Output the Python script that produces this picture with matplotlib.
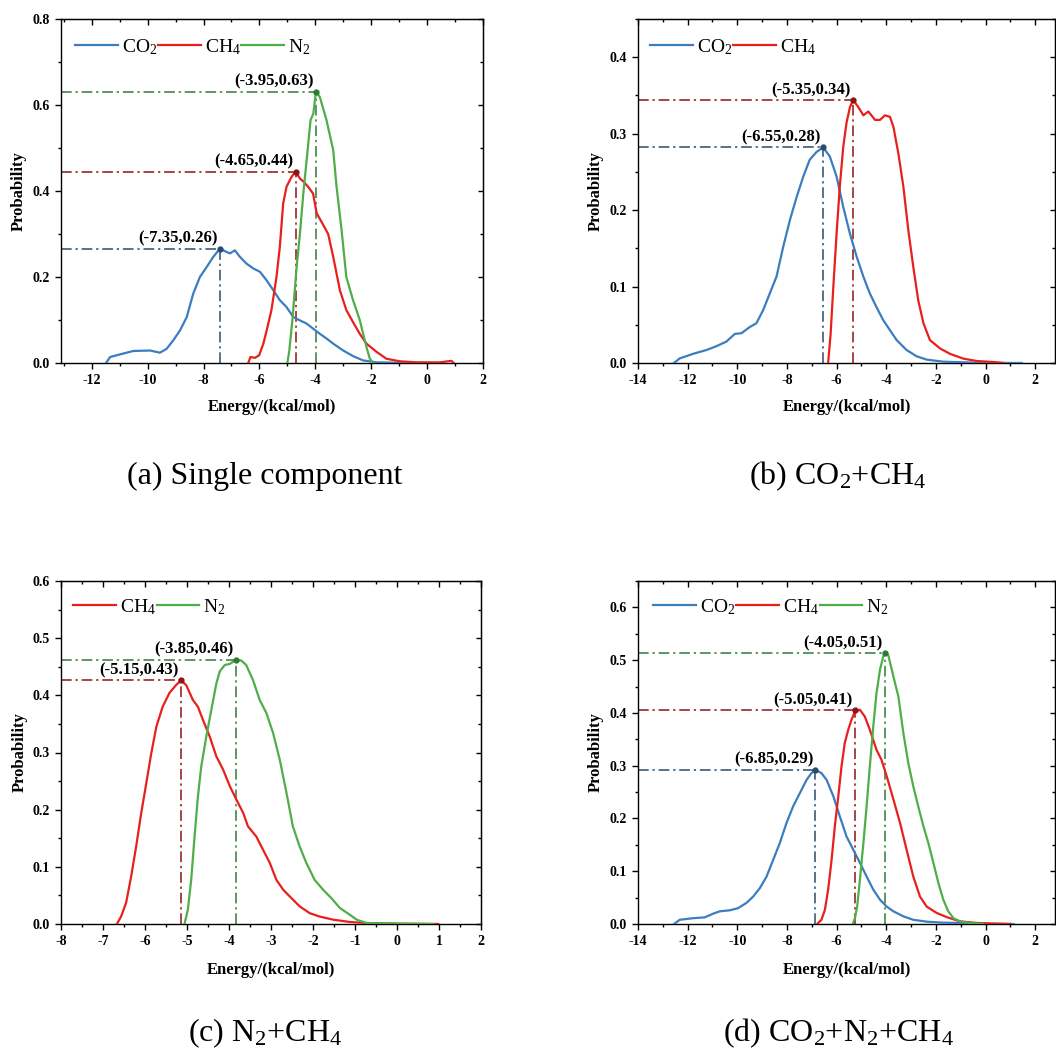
import matplotlib
matplotlib.use("Agg")
import matplotlib.pyplot as plt
from matplotlib.ticker import MultipleLocator, FormatStrFormatter

plt.rcParams['font.family'] = 'serif'
plt.rcParams['font.serif'] = ['Liberation Serif', 'DejaVu Serif']
plt.rcParams['font.weight'] = 'bold'
plt.rcParams['axes.unicode_minus'] = False
plt.rcParams['mathtext.fontset'] = 'custom'
plt.rcParams['mathtext.rm'] = 'Liberation Serif:weight=normal'
plt.rcParams['mathtext.it'] = 'Liberation Serif:italic:weight=normal'
plt.rcParams['mathtext.bf'] = 'Liberation Serif:bold'

# ---------------- data ----------------
# (a) single component
a_co2_x = [-11.49, -11.34, -10.87, -10.51, -9.91, -9.56, -9.32, -9.08, -8.84, -8.6, -8.37, -8.13, -7.89, -7.65,
           -7.41, -7.17, -7.05, -6.88, -6.7, -6.46, -6.22, -5.98, -5.74, -5.5, -5.27, -5.03, -4.79, -4.55, -4.32,
           -4.08, -3.84, -3.6, -3.36, -3.0, -2.65, -2.29, -1.81, -0.98, 0.09, 0.2]
a_co2_y = [0, 0.014, 0.022, 0.028, 0.029, 0.024, 0.033, 0.053, 0.076, 0.107, 0.161, 0.2, 0.223, 0.247,
           0.266, 0.258, 0.255, 0.262, 0.247, 0.231, 0.22, 0.212, 0.192, 0.169, 0.146, 0.13, 0.107, 0.099, 0.092,
           0.08, 0.068, 0.057, 0.045, 0.029, 0.016, 0.006, 0.0015, 0.0005, 0.0002, 0]
a_ch4_x = [-6.4, -6.32, -6.16, -6.01, -5.86, -5.74, -5.57, -5.39, -5.27, -5.15, -5.03, -4.85, -4.70, -4.55,
           -4.41, -4.26, -4.08, -3.95, -3.75, -3.54, -3.36, -3.12, -2.89, -2.65, -2.41, -2.17, -1.81, -1.46,
           -0.98, -0.38, 0.45, 0.75, 0.87, 0.95]
a_ch4_y = [0, 0.014, 0.012, 0.018, 0.045, 0.076, 0.123, 0.2, 0.27, 0.371, 0.41, 0.433, 0.445, 0.429,
           0.421, 0.41, 0.394, 0.348, 0.325, 0.3, 0.247, 0.169, 0.123, 0.095, 0.068, 0.045, 0.026, 0.01,
           0.004, 0.0015, 0.0015, 0.004, 0.005, 0]
a_n2_x = [-5.0, -4.93, -4.81, -4.67, -4.55, -4.43, -4.31, -4.17, -4.07, -3.98, -3.84, -3.6, -3.36, -3.24,
          -3.06, -2.89, -2.65, -2.41, -2.17, -2.05, -1.93]
a_n2_y = [0, 0.029, 0.107, 0.223, 0.301, 0.394, 0.472, 0.565, 0.58, 0.631, 0.619, 0.565, 0.495, 0.41,
          0.309, 0.2, 0.146, 0.1, 0.037, 0.01, 0]
a_peak_x = [-7.40, -4.70, -3.98]
a_peak_y = [0.266, 0.445, 0.631]
a_peak_labels = ['(-7.35,0.26)', '(-4.65,0.44)', '(-3.95,0.63)']

# (b) CO2 + CH4
b_co2_x = [-12.55, -12.32, -11.78, -11.24, -10.84, -10.44, -10.1, -9.83, -9.5, -9.23, -8.96, -8.69, -8.42,
           -8.15, -7.88, -7.61, -7.34, -7.08, -6.81, -6.54, -6.27, -6.0, -5.73, -5.46, -5.19, -4.92, -4.66,
           -4.39, -4.12, -3.85, -3.58, -3.18, -2.77, -2.37, -1.7, -0.35, 1.46]
b_co2_y = [0, 0.006, 0.012, 0.017, 0.022, 0.028, 0.038, 0.039, 0.047, 0.052, 0.069, 0.091, 0.113,
           0.152, 0.187, 0.217, 0.244, 0.266, 0.276, 0.282, 0.27, 0.244, 0.204, 0.169, 0.139, 0.113, 0.091,
           0.073, 0.056, 0.043, 0.03, 0.017, 0.0087, 0.0044, 0.0017, 0.0004, 0]
b_ch4_x = [-6.34, -6.24, -6.13, -6.0, -5.87, -5.73, -5.6, -5.46, -5.33, -5.13, -4.92, -4.72, -4.45, -4.25,
           -4.05, -3.85, -3.71, -3.51, -3.31, -3.11, -2.91, -2.71, -2.5, -2.24, -1.83, -1.43, -0.89, -0.35,
           0.32, 0.72]
b_ch4_y = [0, 0.038, 0.1, 0.169, 0.231, 0.283, 0.314, 0.335, 0.344, 0.335, 0.324, 0.329, 0.318, 0.318,
           0.324, 0.322, 0.309, 0.274, 0.231, 0.174, 0.126, 0.082, 0.052, 0.03, 0.019, 0.012, 0.0057, 0.0026,
           0.0013, 0]
b_peak_x = [-6.54, -5.33]
b_peak_y = [0.282, 0.344]
b_peak_labels = ['(-6.55,0.28)', '(-5.35,0.34)']

# (c) N2 + CH4
c_ch4_x = [-6.67, -6.57, -6.45, -6.33, -6.21, -6.09, -5.97, -5.85, -5.73, -5.58, -5.42, -5.26, -5.14, -5.02,
           -4.86, -4.74, -4.62, -4.46, -4.3, -4.14, -3.98, -3.82, -3.66, -3.55, -3.35, -3.19, -3.03, -2.87,
           -2.71, -2.55, -2.32, -2.08, -1.84, -1.52, -1.12, -0.73, 0.07, 0.98]
c_ch4_y = [0, 0.013, 0.037, 0.083, 0.136, 0.194, 0.246, 0.299, 0.345, 0.38, 0.404, 0.418, 0.426, 0.418,
           0.392, 0.38, 0.357, 0.328, 0.293, 0.27, 0.241, 0.217, 0.194, 0.171, 0.153, 0.13, 0.107, 0.077,
           0.06, 0.048, 0.031, 0.019, 0.013, 0.0076, 0.0035, 0.0017, 0.0006, 0]
c_n2_x = [-5.06, -4.98, -4.9, -4.82, -4.74, -4.66, -4.54, -4.42, -4.3, -4.22, -4.1, -3.98, -3.9, -3.83,
          -3.71, -3.59, -3.43, -3.27, -3.11, -2.95, -2.79, -2.63, -2.48, -2.32, -2.16, -1.96, -1.76, -1.56,
          -1.36, -1.16, -0.96, -0.73, 0.07, 0.86]
c_n2_y = [0, 0.025, 0.077, 0.153, 0.223, 0.276, 0.328, 0.375, 0.421, 0.442, 0.453, 0.455, 0.459, 0.462,
          0.461, 0.453, 0.427, 0.392, 0.369, 0.334, 0.287, 0.229, 0.171, 0.136, 0.107, 0.077, 0.06, 0.045,
          0.028, 0.018, 0.0076, 0.0017, 0.0006, 0]
c_peak_x = [-5.14, -3.84]
c_peak_y = [0.426, 0.462]
c_peak_labels = ['(-5.15,0.43)', '(-3.85,0.46)']

# (d) CO2 + N2 + CH4
d_co2_x = [-12.55, -12.32, -11.78, -11.31, -10.97, -10.71, -10.3, -9.97, -9.63, -9.36, -9.09, -8.82, -8.55,
           -8.29, -8.02, -7.75, -7.48, -7.21, -7.01, -6.85, -6.61, -6.4, -6.13, -5.87, -5.6, -5.33, -5.06,
           -4.79, -4.52, -4.25, -3.98, -3.71, -3.31, -2.91, -2.37, -1.7, -0.35, 1.13]
d_co2_y = [0, 0.008, 0.011, 0.0126, 0.0196, 0.024, 0.026, 0.03, 0.04, 0.052, 0.068, 0.09, 0.122,
           0.153, 0.191, 0.223, 0.248, 0.273, 0.286, 0.292, 0.286, 0.273, 0.242, 0.204, 0.166, 0.141, 0.116,
           0.09, 0.065, 0.046, 0.033, 0.024, 0.0145, 0.008, 0.0044, 0.0025, 0.0013, 0]
d_ch4_x = [-6.78, -6.61, -6.47, -6.34, -6.2, -6.07, -5.93, -5.8, -5.67, -5.53, -5.4, -5.26, -5.06, -4.86,
           -4.66, -4.39, -4.19, -3.98, -3.71, -3.44, -3.18, -2.91, -2.64, -2.37, -1.97, -1.56, -1.03, -0.35,
           0.32, 0.99]
d_ch4_y = [0, 0.008, 0.027, 0.065, 0.122, 0.185, 0.242, 0.299, 0.343, 0.368, 0.387, 0.403, 0.406, 0.393,
           0.368, 0.33, 0.311, 0.28, 0.236, 0.191, 0.141, 0.09, 0.052, 0.033, 0.021, 0.013, 0.005, 0.002,
           0.0006, 0]
d_n2_x = [-5.35, -5.26, -5.17, -5.06, -4.92, -4.79, -4.66, -4.52, -4.39, -4.25, -4.12, -4.02, -3.92, -3.71,
          -3.51, -3.31, -3.11, -2.91, -2.71, -2.5, -2.3, -2.1, -1.9, -1.7, -1.5, -1.29, -1.03, -0.62, -0.09]
d_n2_y = [0, 0.011, 0.033, 0.084, 0.153, 0.223, 0.299, 0.375, 0.438, 0.482, 0.507, 0.513, 0.51, 0.469,
          0.431, 0.362, 0.305, 0.261, 0.223, 0.185, 0.153, 0.116, 0.078, 0.046, 0.024, 0.011, 0.005, 0.002, 0]
d_peak_x = [-6.85, -5.26, -4.05]
d_peak_y = [0.292, 0.405, 0.513]
d_peak_labels = ['(-6.85,0.29)', '(-5.05,0.41)', '(-4.05,0.51)']

captions = [r'(a) Single component', r'(b) CO$_\mathrm{2}$+CH$_\mathrm{4}$',
            r'(c) N$_\mathrm{2}$+CH$_\mathrm{4}$', r'(d) CO$_\mathrm{2}$+N$_\mathrm{2}$+CH$_\mathrm{4}$']

# ---------------- styles ----------------
col = {'CO2': '#3b7dbf', 'CH4': '#e8201c', 'N2': '#4fae47'}
dark = {'CO2': '#2b4a6b', 'CH4': '#8b1414', 'N2': '#2f7a35'}
names = {'CO2': r'CO$_\mathrm{2}$', 'CH4': r'CH$_\mathrm{4}$', 'N2': r'N$_\mathrm{2}$'}

W, H = 1056, 1049
fig = plt.figure(figsize=(W / 100, H / 100), dpi=100)


def px_axes(l, t, r, b):
    return fig.add_axes([l / W, 1 - b / H, (r - l) / W, (b - t) / H])


def style(ax, xlim, ylim, xmaj, xmin, ymaj, ymin, yfmt, ylab_x, xlab_y):
    ax.set_xlim(*xlim)
    ax.set_ylim(*ylim)
    for s in ax.spines.values():
        s.set_linewidth(1.0)
    ax.xaxis.set_major_locator(MultipleLocator(xmaj))
    ax.xaxis.set_minor_locator(MultipleLocator(xmin))
    ax.yaxis.set_major_locator(MultipleLocator(ymaj))
    ax.yaxis.set_minor_locator(MultipleLocator(ymin))
    ax.yaxis.set_major_formatter(FormatStrFormatter(yfmt))
    ax.xaxis.set_major_formatter(FormatStrFormatter('%d'))
    ax.tick_params(which='both', direction='out', top=False, right=False, width=1.0, labelsize=10)
    ax.tick_params(axis='x', which='both', pad=4.0)
    ax.tick_params(axis='y', which='both', pad=4.0)
    ax.tick_params(which='major', length=4)
    ax.tick_params(which='minor', length=2.5)
    sx = ax.secondary_xaxis('top')
    sx.xaxis.set_major_locator(MultipleLocator(xmaj))
    sx.xaxis.set_minor_locator(MultipleLocator(xmin))
    sx.tick_params(which='both', direction='in', labeltop=False, width=1.0)
    sx.tick_params(which='major', length=4.5)
    sx.tick_params(which='minor', length=2.5)
    sy = ax.secondary_yaxis('right')
    sy.yaxis.set_major_locator(MultipleLocator(ymaj))
    sy.yaxis.set_minor_locator(MultipleLocator(ymin))
    sy.tick_params(which='both', direction='in', labelright=False, width=1.0)
    sy.tick_params(which='major', length=3.5)
    sy.tick_params(which='minor', length=2.5)
    ax.set_ylabel('Probability', fontsize=12, fontweight='bold')
    ax.set_xlabel('Energy/(kcal/mol)', fontsize=12, fontweight='bold')
    ax.yaxis.set_label_coords(ylab_x, 0.5)
    ax.xaxis.set_label_coords(0.5, xlab_y)


def draw(ax, series, peak_x, peak_y, peak_labels, keys, leg_x, leg_y):
    for k, (xs, ys) in zip(keys, series):
        ax.plot(xs, ys, color=col[k], lw=1.6, label=names[k], zorder=3)
    x0 = ax.get_xlim()[0]
    for k, px, py, lab in zip(keys, peak_x, peak_y, peak_labels):
        ax.plot([x0, px], [py, py], color=dark[k], lw=1.1, dashes=(7, 2.5, 1.5, 2.5), zorder=2)
        ax.plot([px, px], [0, py], color=dark[k], lw=1.1, dashes=(7, 2.5, 1.5, 2.5), zorder=2)
        ax.plot([px], [py], 'o', color=dark[k], ms=3.5, zorder=4)
        ax.annotate(lab, (px, py), xytext=(-1.5, 1.5), textcoords='offset points',
                    ha='right', va='bottom', fontsize=12, fontweight='bold', zorder=5)
    ax.legend(loc='center left', bbox_to_anchor=(leg_x, leg_y), ncol=len(keys), frameon=False,
              borderpad=0, borderaxespad=0, columnspacing=0.05, handletextpad=0.2, handlelength=2.2,
              prop={'size': 14, 'weight': 'normal'})


# (a)
ax_a = px_axes(61, 19, 483, 363)
style(ax_a, (-13.1, 2), (0, 0.8), 2, 1, 0.2, 0.1, '%.1f', -0.08, -0.105)
draw(ax_a, [(a_co2_x, a_co2_y), (a_ch4_x, a_ch4_y), (a_n2_x, a_n2_y)],
     a_peak_x, a_peak_y, a_peak_labels, ['CO2', 'CH4', 'N2'], 0.033, 0.919)

# (b)
ax_b = px_axes(638, 19, 1055, 363)
style(ax_b, (-14, 2.8), (0, 0.45), 2, 1, 0.1, 0.05, '%.1f', -0.082, -0.105)
draw(ax_b, [(b_co2_x, b_co2_y), (b_ch4_x, b_ch4_y)],
     b_peak_x, b_peak_y, b_peak_labels, ['CO2', 'CH4'], 0.029, 0.919)

# (c)
ax_c = px_axes(61, 581, 481, 924)
style(ax_c, (-8, 2), (0, 0.6), 1, 0.5, 0.1, 0.05, '%.1f', -0.08, -0.111)
draw(ax_c, [(c_ch4_x, c_ch4_y), (c_n2_x, c_n2_y)],
     c_peak_x, c_peak_y, c_peak_labels, ['CH4', 'N2'], 0.029, 0.924)

# (d)
ax_d = px_axes(638, 581, 1055, 924)
style(ax_d, (-14, 2.8), (0, 0.65), 2, 1, 0.1, 0.05, '%.1f', -0.082, -0.111)
draw(ax_d, [(d_co2_x, d_co2_y), (d_ch4_x, d_ch4_y), (d_n2_x, d_n2_y)],
     d_peak_x, d_peak_y, d_peak_labels, ['CO2', 'CH4', 'N2'], 0.036, 0.924)

# captions
cap_pos = [(265, 476), (838, 476), (265, 1033), (838, 1033)]
for (cx, cy), txt in zip(cap_pos, captions):
    fig.text(cx / W, 1 - cy / H, txt, ha='center', va='center', fontsize=23, fontweight='normal')

fig.savefig('out.png', dpi=100)
